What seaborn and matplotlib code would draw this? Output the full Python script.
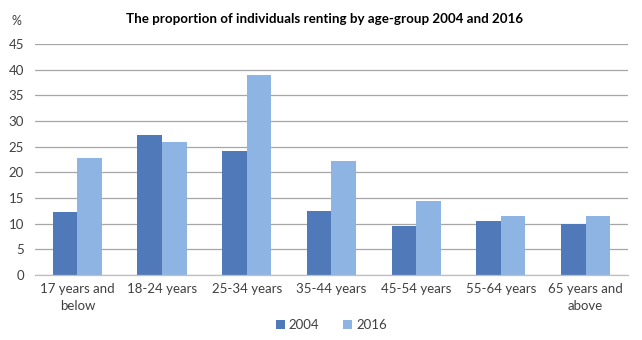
import matplotlib
matplotlib.use("Agg")
import matplotlib.pyplot as plt
import seaborn as sns
import pandas as pd

categories = ["17 years and\nbelow", "18-24 years", "25-34 years", "35-44 years",
              "45-54 years", "55-64 years", "65 years and\nabove"]
values_2004 = [12.3, 27.2, 24.1, 12.5, 9.6, 10.6, 10.0]
values_2016 = [22.8, 25.9, 39.0, 22.2, 14.4, 11.4, 11.5]
years = ["2004", "2016"]
yticks = [0, 5, 10, 15, 20, 25, 30, 35, 40, 45]

df = pd.DataFrame({
    "category": categories * 2,
    "year": [years[0]] * len(categories) + [years[1]] * len(categories),
    "value": values_2004 + values_2016,
})

sns.set_theme(style="white")
plt.rcParams["font.family"] = ["Lato", "DejaVu Sans"]

fig = plt.figure(figsize=(6.42, 3.40), dpi=100)
ax = fig.add_axes([0.0545, 0.191, 0.9235, 0.68])

sns.barplot(data=df, x="category", y="value", hue="year", order=categories,
            hue_order=years, palette=["#4F79B8", "#8EB4E3"], width=0.58,
            saturation=1, edgecolor="none", ax=ax, legend=True)

ax.set_ylim(0, 45)
ax.set_xlim(-0.5, len(categories) - 0.5)
ax.set_yticks(yticks)
ax.set_yticklabels([str(t) for t in yticks], fontsize=9.5, color="#404040")
ax.tick_params(axis="x", labelsize=9.5, colors="#404040", length=0, pad=6)
for lbl in ax.get_xticklabels():
    lbl.set_linespacing(1.45)
ax.tick_params(axis="y", length=0, pad=8)
ax.set_xlabel("")
ax.set_ylabel("")
ax.yaxis.grid(True, color="#A6A6A6", linewidth=0.9)
ax.set_axisbelow(True)
for s in ["top", "right", "left"]:
    ax.spines[s].set_visible(False)
ax.spines["bottom"].set_color("#BFBFBF")
ax.spines["bottom"].set_linewidth(0.9)

fig.text(0.505, 0.945, "The proportion of individuals renting by age-group 2004 and 2016",
         ha="center", va="center", fontsize=9.6, fontweight="bold", color="black")
fig.text(0.026, 0.938, "%", ha="center", va="center", fontsize=9, color="#404040")

leg = ax.legend(loc="center", bbox_to_anchor=(0.5, -0.215), ncol=2, frameon=False,
                fontsize=9.5, handlelength=0.7, handleheight=0.7, handletextpad=0.3,
                columnspacing=1.8)
for t in leg.get_texts():
    t.set_color("#404040")

fig.savefig("out.png", dpi=100)
